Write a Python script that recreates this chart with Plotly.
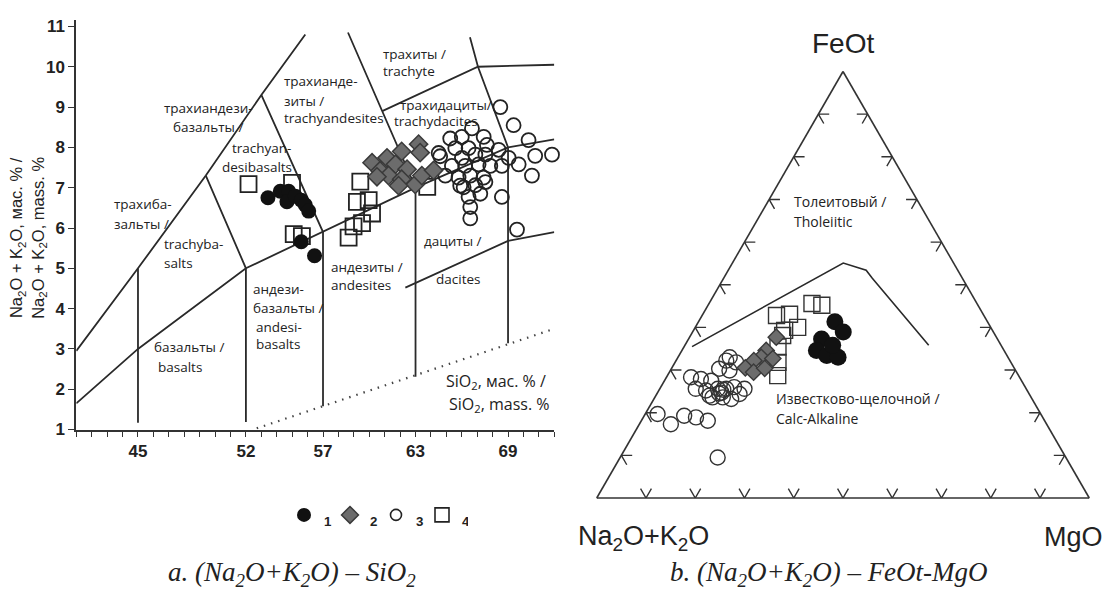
import plotly.graph_objects as go

W, H = 1111, 599

# ---------------- Panel a: TAS diagram (SiO2 vs Na2O+K2O, mass %) ----------------
g1_sio2 = [53.43, 54.23, 54.77, 54.66, 55.20, 55.59, 55.85, 56.07, 55.59, 56.45]
g1_alk = [6.75, 6.91, 6.91, 6.65, 6.79, 6.69, 6.57, 6.42, 5.66, 5.31]

g2_sio2 = [63.2, 63.3, 62.1, 61.15, 60.18, 61.7, 62.45, 60.7, 61.25, 62.1, 62.98, 63.41, 64.17, 60.5, 61.9]
g2_alk = [8.08, 7.87, 7.90, 7.74, 7.62, 7.58, 7.46, 7.42, 7.30, 7.21, 7.08, 7.30, 7.43, 7.27, 7.05]

g3_sio2 = [68.5, 69.36, 70.33, 71.85, 70.76, 70.55, 68.6, 66.55, 69.58,
           66.66, 66.0, 65.25, 67.42, 65.58, 66.44, 64.6, 67.63, 68.39, 69.04, 69.69,
           66.01, 66.88, 67.53, 65.36, 66.22, 67.09, 67.85, 68.6, 64.93, 65.79,
           66.55, 67.41, 66.12, 66.88, 67.53, 66.44, 67.2, 66.55, 64.5, 65.9]
g3_alk = [9.0, 8.55, 8.18, 7.82, 7.79, 7.30, 6.77, 6.24, 5.96,
          8.47, 8.26, 8.22, 8.26, 7.98, 7.98, 7.78, 8.06, 7.94, 7.74, 7.58,
          7.74, 7.82, 7.82, 7.54, 7.54, 7.58, 7.54, 7.54, 7.30, 7.25,
          7.30, 7.25, 7.01, 7.06, 7.14, 6.77, 6.85, 6.52, 7.86, 7.05]

g4_sio2 = [52.17, 54.99, 55.1, 55.63, 59.42, 59.2, 59.96, 60.18, 59.53, 58.98, 58.66, 63.76]
g4_alk = [7.09, 7.12, 5.85, 5.80, 7.15, 6.65, 6.69, 6.36, 6.12, 6.04, 5.76, 7.02]

# field boundaries of the TAS diagram
tas_bound_x = [
    [41, 45, 52, 57, 63, 69, 72],
    [41, 45, 49.4, 53, 55.85],
    [49.4, 52, 52],
    [53, 57, 57],
    [58.62, 63, 63],
    [66.53, 67.05, 69, 69],
    [60.84, 67.05, 72],
    [45, 45],
    [62.34, 69, 72],
]
tas_bound_y = [
    [1.65, 3.0, 5.0, 5.9, 7.0, 8.0, 8.2],
    [2.95, 5.0, 7.3, 9.3, 10.8],
    [7.3, 5.0, 1.19],
    [9.3, 5.9, 1.58],
    [10.85, 7.0, 2.31],
    [10.73, 10.0, 8.0, 3.14],
    [8.9, 10.0, 10.05],
    [5.0, 1.17],
    [4.52, 5.68, 5.9],
]
dotted_x = [52.7, 72]
dotted_y = [1.03, 3.5]

x_tick_vals = [45, 52, 57, 63, 69]
y_tick_vals = [1, 2, 3, 4, 5, 6, 7, 8, 9, 10, 11]

# ---------------- Panel b: AFM ternary (FeOt / Na2O+K2O / MgO, %) ----------------
t1_feo = [41.3, 38.9, 37.3, 34.6, 33.4, 33.0, 35.8]
t1_alk = [31.0, 30.5, 35.7, 38.1, 36.6, 34.5, 34.2]
t1_mgo = [27.7, 30.6, 27.0, 27.3, 30.0, 32.5, 30.0]

t2_feo = [37.7, 34.6, 33.0, 32.7, 32.2, 30.7, 29.5, 30.4]
t2_alk = [44.7, 48.3, 50.1, 47.9, 52.0, 54.9, 53.4, 50.7]
t2_mgo = [17.6, 17.1, 16.9, 19.4, 15.8, 15.0, 17.1, 18.9]

t3_feo = [32.2, 31.8, 29.9, 30.3, 28.3, 27.9, 27.5, 25.6, 25.2, 25.6, 25.6, 26.0, 25.6, 23.6,
          23.6, 23.2, 24.4, 19.7, 17.3, 19.3, 18.9, 18.1, 9.5, 33.0, 24.0, 24.7, 25.4, 24.5]
t3_alk = [57.6, 55.8, 58.1, 60.0, 66.7, 64.9, 63.0, 67.1, 65.2, 62.6, 60.9, 59.1, 57.2, 64.7,
          62.6, 61.1, 58.8, 77.8, 76.3, 72.6, 70.4, 68.4, 70.7, 56.5, 65.1, 62.3, 61.6, 62.9]
t3_mgo = [10.2, 12.4, 12.0, 9.7, 5.0, 7.2, 9.5, 7.3, 9.6, 11.8, 13.5, 14.9, 17.2, 11.7,
          13.8, 15.7, 16.8, 2.5, 6.4, 8.1, 10.7, 13.5, 19.8, 10.5, 10.9, 13.0, 13.0, 12.6]

t4_feo = [42.8, 43.1, 40.0, 39.3, 45.6, 45.2, 35.4, 31.8, 28.7, 38.1]
t4_alk = [42.1, 39.3, 39.2, 42.2, 33.5, 31.7, 45.5, 47.3, 48.9, 43.2]
t4_mgo = [15.1, 17.6, 20.8, 18.5, 20.9, 23.1, 19.1, 20.9, 22.4, 18.7]

# tholeiitic / calc-alkaline dividing line
div_feo = [35.5, 55.1, 53.4, 51.5, 35.8]
div_alk = [62.9, 22.4, 18.6, 18.3, 14.7]
div_mgo = [1.6, 22.5, 28.0, 30.2, 49.5]

tern_ticks = [10, 20, 30, 40, 50, 60, 70, 80, 90]

LINE = '#2a2a2a'
fig = go.Figure()

# ---- panel a boundaries ----
for bx, by in zip(tas_bound_x, tas_bound_y):
    fig.add_trace(go.Scatter(x=bx, y=by, mode='lines', line=dict(color=LINE, width=1.8),
                             showlegend=False, hoverinfo='skip'))
fig.add_trace(go.Scatter(x=dotted_x, y=dotted_y, mode='lines',
                         line=dict(color='#444', width=2.2, dash='1.5px,6px'),
                         showlegend=False, hoverinfo='skip'))

# ---- panel a points ----
fig.add_trace(go.Scatter(x=g4_sio2, y=g4_alk, mode='markers', cliponaxis=False, showlegend=False,
                         marker=dict(symbol='square-open', size=16, color='#222', line=dict(width=1.8))))
fig.add_trace(go.Scatter(x=g3_sio2, y=g3_alk, mode='markers', cliponaxis=False, showlegend=False,
                         marker=dict(symbol='circle-open', size=14, color='#222', line=dict(width=1.8))))
fig.add_trace(go.Scatter(x=g2_sio2, y=g2_alk, mode='markers', cliponaxis=False, showlegend=False,
                         marker=dict(symbol='diamond', size=14, color='#6c6c6c',
                                     line=dict(color='#3a3a3a', width=1.5))))
fig.add_trace(go.Scatter(x=g1_sio2, y=g1_alk, mode='markers', cliponaxis=False, showlegend=False,
                         marker=dict(symbol='circle', size=15, color='#111', line=dict(width=0))))

# ---- legend-only entries ----
leg_specs = [
    ('1', dict(symbol='circle', size=14, color='#111')),
    ('2', dict(symbol='diamond', size=13, color='#6c6c6c', line=dict(color='#3a3a3a', width=1.5))),
    ('3', dict(symbol='circle-open', size=11, color='#222', line=dict(width=1.6))),
    ('4', dict(symbol='square-open', size=14, color='#222', line=dict(width=1.6))),
]
for name, mk in leg_specs:
    fig.add_trace(go.Scatter(x=[None], y=[None], mode='markers', name='<sub>' + name + '</sub>',
                             marker=mk, showlegend=True))

# ---- panel b: chevron ticks on the triangle edges ----
d = 2.2
ta, tb, tc = [], [], []
for s in tern_ticks:
    # left edge (MgO = 0)
    ta += [s, s, s - d, None]; tb += [100 - s - d, 100 - s, 100 - s, None]; tc += [d, 0, d, None]
    # right edge (Na2O+K2O = 0)
    ta += [s, s, s - d, None]; tb += [d, 0, d, None]; tc += [100 - s - d, 100 - s, 100 - s, None]
    # bottom edge (FeOt = 0)
    ta += [d, 0, d, None]; tb += [100 - s - d, 100 - s, 100 - s, None]; tc += [s, s, s - d, None]
fig.add_trace(go.Scatterternary(a=ta, b=tb, c=tc, mode='lines', line=dict(color='#333', width=1.4),
                                showlegend=False, hoverinfo='skip', cliponaxis=False))
fig.add_trace(go.Scatterternary(a=div_feo, b=div_alk, c=div_mgo, mode='lines',
                                line=dict(color=LINE, width=1.6), showlegend=False, hoverinfo='skip'))

fig.add_trace(go.Scatterternary(a=t4_feo, b=t4_alk, c=t4_mgo, mode='markers', showlegend=False,
                                marker=dict(symbol='square-open', size=16, color='#333', line=dict(width=1.4))))
fig.add_trace(go.Scatterternary(a=t3_feo, b=t3_alk, c=t3_mgo, mode='markers', showlegend=False,
                                marker=dict(symbol='circle-open', size=15, color='#333', line=dict(width=1.4))))
fig.add_trace(go.Scatterternary(a=t2_feo, b=t2_alk, c=t2_mgo, mode='markers', showlegend=False,
                                marker=dict(symbol='diamond', size=12.5, color='#6c6c6c',
                                            line=dict(color='#3a3a3a', width=1.4))))
fig.add_trace(go.Scatterternary(a=t1_feo, b=t1_alk, c=t1_mgo, mode='markers', showlegend=False,
                                marker=dict(symbol='circle', size=17, color='#111', line=dict(width=0))))

tern_axis = dict(showgrid=False, showticklabels=False, ticks='', showline=True,
                 linecolor='#333', linewidth=1.6, title=dict(text=''))

TICKFONT = dict(family='Liberation Sans', size=17, color='#222', weight='bold')

# ternary domain (enlarged slightly because plotly insets the triangle inside its box)
TX0, TX1, TY0, TY1 = 593, 1093, 70, 506

fig.update_layout(
    width=W, height=H, autosize=False,
    margin=dict(l=0, r=0, t=0, b=0),
    paper_bgcolor='white', plot_bgcolor='white',
    xaxis=dict(domain=[76.3 / W, 554.3 / W], range=[41, 72], showline=True, linecolor='#333', linewidth=2,
               tickmode='array', tickvals=x_tick_vals, ticks='outside', ticklen=5, tickwidth=1.4,
               tickcolor='#333', minor=dict(dtick=1, tick0=41, ticks='outside', ticklen=5, tickwidth=1.2,
                                           tickcolor='#333', showgrid=False),
               showgrid=False, zeroline=False, tickfont=TICKFONT),
    yaxis=dict(domain=[1 - 436 / H, 1 - 17.8 / H], range=[1, 11.15], showline=True, linecolor='#333',
               linewidth=2, tickmode='array', tickvals=y_tick_vals, ticks='outside', ticklen=6,
               tickwidth=1.4, tickcolor='#333', showgrid=False, zeroline=False, tickfont=TICKFONT),
    ternary=dict(domain=dict(x=[TX0 / W, TX1 / W], y=[1 - TY1 / H, 1 - TY0 / H]), sum=100,
                 bgcolor='white', aaxis=tern_axis, baxis=tern_axis, caxis=tern_axis),
    showlegend=True,
    legend=dict(orientation='h', x=284 / W, y=1 - 504 / H, xanchor='left', yanchor='top',
                entrywidth=1, entrywidthmode='pixels', bgcolor='rgba(0,0,0,0)',
                font=dict(family='Liberation Sans', size=19, color='#222', weight='bold'),
                itemclick=False, itemdoubleclick=False),
)

SANS = 'Open Sans'


def ann(text, px, py, size=13.5, family=SANS, xanchor='left', **kw):
    return dict(text=text, x=px / W, y=1 - py / H, xref='paper', yref='paper', xanchor=xanchor,
                yanchor='middle', showarrow=False, font=dict(size=size, family=family, color='#222'),
                borderpad=0, **kw)


labels = [
    ('трахиандези-', 208, 107, 'center'), ('базальты /', 208, 127, 'center'),
    ('trachyan-', 231, 148, 'left'), ('desibasalts', 221, 168, 'left'),
    ('трахиба-', 113, 205, 'left'), ('зальты /', 113, 226, 'left'),
    ('trachyba-', 163, 246, 'left'), ('salts', 163, 266, 'left'),
    ('трахианде-', 283, 80, 'left'), ('зиты /', 283, 100, 'left'), ('trachyandesites', 283, 118, 'left'),
    ('трахиты /', 382, 52, 'left'), ('trachyte', 382, 70, 'left'),
    ('трахидациты/', 399, 104, 'left'), ('trachydacites', 393, 121, 'left'),
    ('базальты /', 153, 352, 'left'), ('basalts', 157, 372, 'left'),
    ('андези-', 252, 292, 'left'), ('базальты /', 252, 312, 'left'),
    ('andesi-', 255, 331, 'left'), ('basalts', 255, 349, 'left'),
    ('андезиты /', 330, 270, 'left'), ('andesites', 330, 288, 'left'),
    ('дациты /', 423, 243, 'left'), ('dacites', 435, 282, 'left'),
]
tern_labels = [
    ('Толеитовый /', 793, 203), ('Tholeiitic', 793, 223),
    ('Известково-щелочной /', 775, 404), ('Calc-Alkaline', 775, 425),
]
annotations = [ann(t, x, y, xanchor=a) for t, x, y, a in labels]
annotations += [ann(t, x, y, size=14) for t, x, y in tern_labels]
annotations += [
    ann('SiO<sub>2</sub>, мас. % /', 445, 387, size=16),
    ann('SiO<sub>2</sub>, mass. %', 448, 410, size=16),
    ann('Na<sub>2</sub>O + K<sub>2</sub>O, мас. % /<br>Na<sub>2</sub>O + K<sub>2</sub>O, mass. %',
        28, 240, size=16.5, family='Liberation Sans', xanchor='center', textangle=-90),
    ann('FeOt', 843, 41, size=28, family='Liberation Sans', xanchor='center'),
    ann('Na<sub>2</sub>O+K<sub>2</sub>O', 643, 547, size=27, family='Liberation Sans', xanchor='center'),
    ann('MgO', 1073, 546, size=27, family='Liberation Sans', xanchor='center'),
    ann('<i>a. (Na<sub>2</sub>O+K<sub>2</sub>O) – SiO<sub>2</sub></i>', 292, 584, size=27,
        family='Liberation Serif', xanchor='center'),
    ann('<i>b. (Na<sub>2</sub>O+K<sub>2</sub>O) – FeOt-MgO</i>', 829, 584, size=27,
        family='Liberation Serif', xanchor='center'),
]
fig.update_layout(annotations=annotations)

fig.write_html('out.html')
